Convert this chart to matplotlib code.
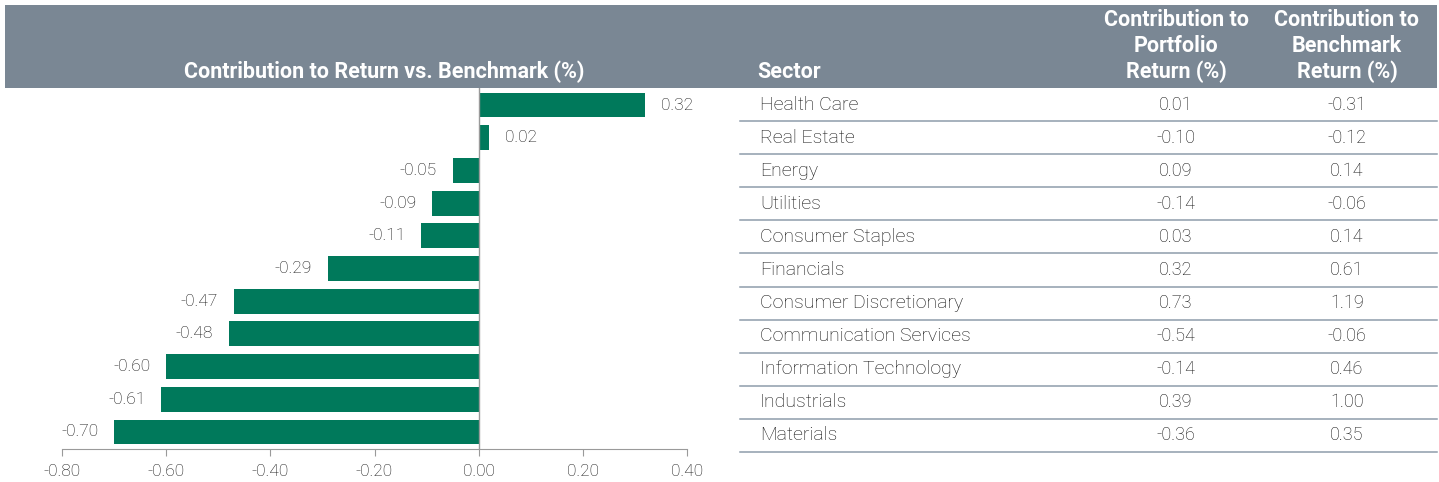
import matplotlib
matplotlib.use("Agg")
import matplotlib.pyplot as plt
from matplotlib.patches import Rectangle
from matplotlib.lines import Line2D

plt.rcParams['font.family'] = ['Roboto', 'DejaVu Sans']

sectors = ["Health Care", "Real Estate", "Energy", "Utilities", "Consumer Staples",
           "Financials", "Consumer Discretionary", "Communication Services",
           "Information Technology", "Industrials", "Materials"]
contrib_vs_bench = [0.32, 0.02, -0.05, -0.09, -0.11, -0.29, -0.47, -0.48, -0.60, -0.61, -0.70]
port_contrib = ["0.01", "-0.10", "0.09", "-0.14", "0.03", "0.32", "0.73", "-0.54", "-0.14", "0.39", "-0.36"]
bench_contrib = ["-0.31", "-0.12", "0.14", "-0.06", "0.14", "0.61", "1.19", "-0.06", "0.46", "1.00", "0.35"]
xticks = [-0.80, -0.60, -0.40, -0.20, 0.00, 0.20, 0.40]

W, H = 1439, 482
GREEN = "#00795b"
HEAD = "#7a8794"
TXT = "#111111"
LINE = "#8e9cab"

fig = plt.figure(figsize=(W / 100, H / 100), dpi=100)

def fx(px):
    return px / W

def fy(py):
    return 1 - py / H

# header band
fig.patches.append(Rectangle((fx(5), fy(88)), fx(1432), 83 / H, transform=fig.transFigure,
                             facecolor=HEAD, edgecolor="none", zorder=0))

hfs = 15.5
fig.text(fx(384), fy(72), "Contribution to Return vs. Benchmark (%)", color="white",
         fontsize=hfs, fontweight="bold", ha="center", va="center")
fig.text(fx(757), fy(72), "Sector", color="white", fontsize=hfs, fontweight="bold",
         ha="left", va="center")
col2, col3 = 1176, 1347
for cx, lines in [(col2, ["Contribution to", "Portfolio", "Return (%)"]),
                  (col3, ["Contribution to", "Benchmark", "Return (%)"])]:
    for i, t in enumerate(lines):
        fig.text(fx(cx), fy(20 + 26 * i), t, color="white", fontsize=hfs,
                 fontweight="bold", ha="center", va="center")

# bar chart
n = len(contrib_vs_bench)
ax_left, ax_right, ax_top, ax_bot = 62, 687, 88, 449
ax = fig.add_axes([fx(ax_left), fy(ax_bot), fx(ax_right - ax_left), (ax_bot - ax_top) / H])
ypos = list(range(n))
ax.barh(ypos, contrib_vs_bench, height=0.76, color=GREEN, zorder=2)
ax.set_xlim(-0.8, 0.4)
ax.set_ylim(n - 0.48, -0.52)
ax.set_xticks(xticks)
ax.set_xticklabels([f"{v:.2f}" for v in xticks], fontsize=12.5, color=TXT, fontweight="light")
ax.set_yticks([])
for s in ["top", "right", "left"]:
    ax.spines[s].set_visible(False)
ax.spines["bottom"].set_color("#9a9a9a")
ax.tick_params(axis="x", length=5, color="#9a9a9a", pad=6)
ax.axvline(0, color="#9a9a9a", lw=1, zorder=3)
ax.patch.set_alpha(0)
off = 0.03
for y, v in zip(ypos, contrib_vs_bench):
    if v >= 0:
        ax.text(v + off, y, f"{v:.2f}", ha="left", va="center", fontsize=12.5, color=TXT,
                fontweight="light")
    else:
        ax.text(v - off, y, f"{v:.2f}", ha="right", va="center", fontsize=12.5, color=TXT,
                fontweight="light")

# table
row0, rstep = 104.5, 33.1
tfs = 14
for i, (s, p, b) in enumerate(zip(sectors, port_contrib, bench_contrib)):
    yc = row0 + i * rstep
    fig.text(fx(760), fy(yc), s, fontsize=tfs, color=TXT, ha="left", va="center", fontweight="light")
    fig.text(fx(col2), fy(yc), p, fontsize=13, color=TXT, ha="center", va="center", fontweight="light")
    fig.text(fx(col3), fy(yc), b, fontsize=13, color=TXT, ha="center", va="center", fontweight="light")
    yl = yc + rstep / 2
    fig.lines.append(Line2D([fx(740), fx(1437)], [fy(yl), fy(yl)], transform=fig.transFigure,
                            color=LINE, lw=1.1))

fig.savefig("out.png", dpi=100, facecolor="white")
